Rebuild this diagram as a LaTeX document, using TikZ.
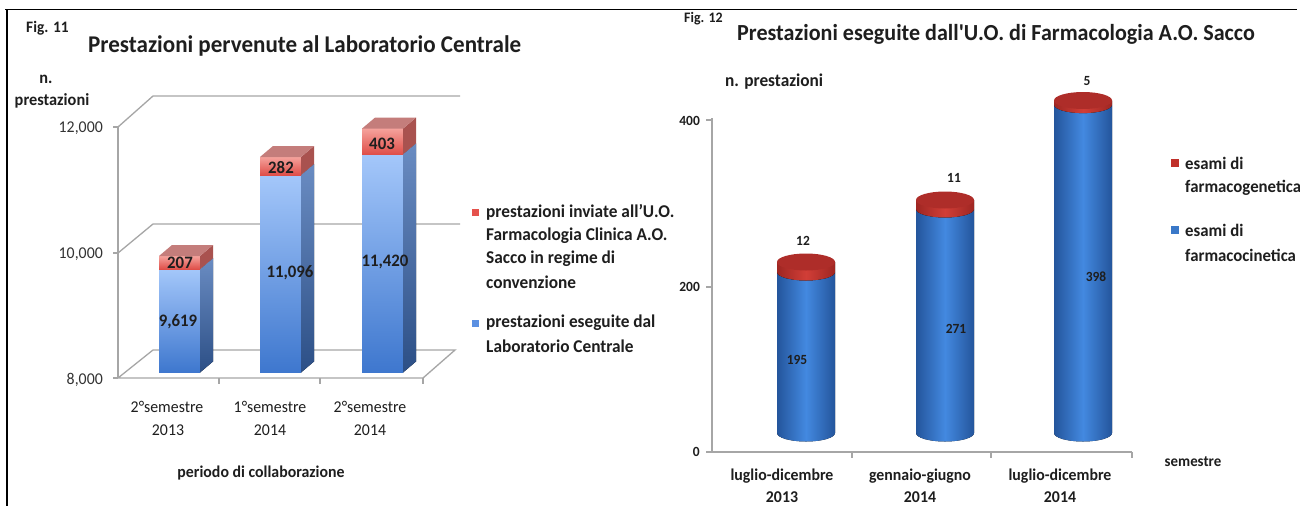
\documentclass[tikz,border=0pt]{standalone}
\usepackage{fontspec}
\setmainfont{Carlito}
\usepackage{graphicx}
\definecolor{txt}{HTML}{1E1E1E}
\definecolor{axisc}{HTML}{A6A6A6}
\definecolor{lbTop}{HTML}{A4C7FA}
\definecolor{lbBot}{HTML}{3E77CE}
\definecolor{lsTop}{HTML}{6A8CC2}
\definecolor{lsBot}{HTML}{2C4F86}
\definecolor{rfTop}{HTML}{F5A29C}
\definecolor{rfBot}{HTML}{DF4E48}
\definecolor{rsideC}{HTML}{A9524F}
\definecolor{rtopC}{HTML}{C47D7B}
\definecolor{cbEdge}{HTML}{24559C}
\definecolor{cbMid}{HTML}{4389E0}
\definecolor{crEdge}{HTML}{9E2622}
\definecolor{crMid}{HTML}{D13E37}
\definecolor{crTop}{HTML}{AE2D29}
\definecolor{legRedL}{HTML}{E5524C}
\definecolor{legBlueL}{HTML}{5B90E2}
\definecolor{legRedR}{HTML}{C0302A}
\definecolor{legBlueR}{HTML}{3A78C8}
\newcommand\sq[1]{\scalebox{0.96}[1]{#1}}
\newcommand\myfs[1]{\fontsize{#1}{#1}\selectfont}
\newcommand\leftbar[3]{%
 \fill[top color=lbTop,bottom color=lbBot] (#1,#2) rectangle ({#1+41},372.5);
 \fill[top color=lsTop,bottom color=lsBot] ({#1+41},372.5) -- ({#1+54},361.5) -- ({#1+54},{#2-11}) -- ({#1+41},#2) -- cycle;
 \fill[top color=rfTop,bottom color=rfBot] (#1,#3) rectangle ({#1+41},#2);
 \fill[rsideC] ({#1+41},#2) -- ({#1+54},{#2-11}) -- ({#1+54},{#3-11}) -- ({#1+41},#3) -- cycle;
 \fill[rtopC] (#1,#3) -- ({#1+13},{#3-11}) -- ({#1+54},{#3-11}) -- ({#1+41},#3) -- cycle;
}
\newcommand\cyl[3]{%
 \fill[left color=cbEdge,right color=cbEdge,middle color=cbMid]
   ({#1-29},#2) -- ({#1-29},433) arc[start angle=180,end angle=0,x radius=29,y radius=8.5]
   -- ({#1+29},#2) arc[start angle=0,end angle=180,x radius=29,y radius=8.5] -- cycle;
 \fill[left color=crEdge,right color=crEdge,middle color=crMid]
   ({#1-29},#3) -- ({#1-29},#2) arc[start angle=180,end angle=0,x radius=29,y radius=8.5]
   -- ({#1+29},#3) -- cycle;
 \fill[crTop] (#1,#3) ellipse[x radius=29,y radius=8.5];
}
\tikzset{
  lb/.style={inner sep=0pt,text=txt,font=\bfseries\myfs{#1}},
  lr/.style={inner sep=0pt,text=txt,font=\myfs{#1}},
  ax/.style={draw=axisc,line width=1.3pt},
}
\begin{document}
\begin{tikzpicture}[x=1pt,y=-1pt]
\useasboundingbox (0,0) rectangle (1300,506);
\fill[white] (0,0) rectangle (1300,506);
% frame
\draw[line width=1.5pt] (5,9.5) -- (1297,9.5);
\draw[line width=2.2pt] (7,9.5) -- (7,506);

% ================= Fig. 11 =................
\node[lb=16,anchor=west] (fig11) at (26,28) {\sq{Fig. 11}};
\node[lb=24,anchor=west] (t11) at (88,46) {\sq{Prestazioni pervenute al Laboratorio Centrale}};
\node[lb=17] (ny1) at (46,79) {\sq{n.}};
\node[lb=17] (py1) at (52,101) {\sq{prestazioni}};
% walls and floor
\draw[ax] (118,127) -- (153,96) -- (460,96);
\draw[ax] (118,253) -- (153,224) -- (460,224);
\draw[ax] (118,378) -- (153,350) -- (455,350) -- (423,378) -- (118,378);
\draw[ax] (118,127) -- (118,378);
\foreach \yy in {127,253,378} \draw[ax] (113,\yy) -- (118,\yy);
\foreach \xx in {219,320,423} \draw[ax] (\xx,378) -- (\xx,384);
\node[lr=16.5,anchor=east,text=black!80] (y12) at (103,128) {\sq{12,000}};
\node[lr=16.5,anchor=east,text=black!80] (y10) at (103,254) {\sq{10,000}};
\node[lr=16.5,anchor=east,text=black!80] (y8) at (103,380) {\sq{8,000}};
% bars
\leftbar{159}{269.2}{256}
\leftbar{260}{175}{157}
\leftbar{362}{154.3}{128.6}
\node[lb=17.5] (v207) at (180,263) {\sq{207}};
\node[lb=17.5] (v9619) at (178,322) {\sq{9,619}};
\node[lb=17.5] (v282) at (281,168) {\sq{282}};
\node[lb=17.5] (v11096) at (290,273) {\sq{11,096}};
\node[lb=17.5] (v403) at (382,144) {\sq{403}};
\node[lb=17.5] (v11420) at (385,262) {\sq{11,420}};
% categories
\node[lr=16.5] (c1a) at (167,407) {\sq{2°semestre}};
\node[lr=16.5] (c1b) at (168,430) {\sq{2013}};
\node[lr=16.5] (c2a) at (270,407) {\sq{1°semestre}};
\node[lr=16.5] (c2b) at (270,430) {\sq{2014}};
\node[lr=16.5] (c3a) at (370,407) {\sq{2°semestre}};
\node[lr=16.5] (c3b) at (370,430) {\sq{2014}};
\node[lb=16.5] (xl1) at (261,473) {\sq{periodo di collaborazione}};
% legend
\fill[legRedL] (471.5,208.5) rectangle (478.5,215.5);
\fill[legBlueL] (471.5,319.5) rectangle (478.5,326.5);
\node[lb=18,anchor=west] (l1a) at (486,212) {\sq{prestazioni inviate all’U.O.}};
\node[lb=18,anchor=west] (l1b) at (486,236) {\sq{Farmacologia Clinica A.O.}};
\node[lb=18,anchor=west] (l1c) at (486,259) {\sq{Sacco in regime di}};
\node[lb=18,anchor=west] (l1d) at (486,282) {\sq{convenzione}};
\node[lb=18,anchor=west] (l2a) at (486,323) {\sq{prestazioni eseguite dal}};
\node[lb=18,anchor=west] (l2b) at (486,346) {\sq{Laboratorio Centrale}};

% ================= Fig. 12 =================
\node[lb=14.5,anchor=west] (fig12) at (684,19) {\sq{Fig. 12}};
\node[lb=23,anchor=west] (t12) at (737,34) {\sq{Prestazioni eseguite dall\textquotesingle U.O. di Farmacologia A.O. Sacco}};
\node[lb=18,anchor=west] (ny2) at (725,82) {\sq{n. prestazioni}};
\draw[ax] (712,118) -- (712,452) -- (1132,452);
\foreach \yy in {120,287,452} \draw[ax] (706,\yy) -- (712,\yy);
\foreach \xx in {852,991,1132} \draw[ax] (\xx,452) -- (\xx,458);
\node[lb=14,anchor=east] (r400) at (700,121) {\sq{400}};
\node[lb=14,anchor=east] (r200) at (700,287) {\sq{200}};
\node[lb=14,anchor=east] (r0) at (700,452) {\sq{0}};
% cylinders
\cyl{806}{272}{262}
\cyl{945}{209}{200}
\cyl{1083}{104.6}{100.5}
\node[lb=14] (n12) at (803,241) {\sq{12}};
\node[lb=14] (n11) at (954,178) {\sq{11}};
\node[lb=14] (n5) at (1087,81) {\sq{5}};
\node[lb=14] (n195) at (797,360) {\sq{195}};
\node[lb=14] (n271) at (956,329) {\sq{271}};
\node[lb=14] (n398) at (1096,277) {\sq{398}};
% categories
\node[lb=16.5] (d1a) at (782,476) {\sq{luglio-dicembre}};
\node[lb=16.5] (d1b) at (782,497) {\sq{2013}};
\node[lb=16.5] (d2a) at (920,476) {\sq{gennaio-giugno}};
\node[lb=16.5] (d2b) at (920,497) {\sq{2014}};
\node[lb=16.5] (d3a) at (1060,476) {\sq{luglio-dicembre}};
\node[lb=16.5] (d3b) at (1060,497) {\sq{2014}};
\node[lb=15.5] (sem) at (1193,462) {\sq{semestre}};
% legend
\fill[legRedR] (1171,159) rectangle (1179,167);
\fill[legBlueR] (1171,226) rectangle (1179,234);
\node[lb=17.5,anchor=west] (g1a) at (1185,163) {\sq{esami di}};
\node[lb=17.5,anchor=west] (g1b) at (1185,188) {\sq{farmacogenetica}};
\node[lb=17.5,anchor=west] (g2a) at (1185,230) {\sq{esami di}};
\node[lb=17.5,anchor=west] (g2b) at (1185,255) {\sq{farmacocinetica}};
\end{tikzpicture}
\end{document}
